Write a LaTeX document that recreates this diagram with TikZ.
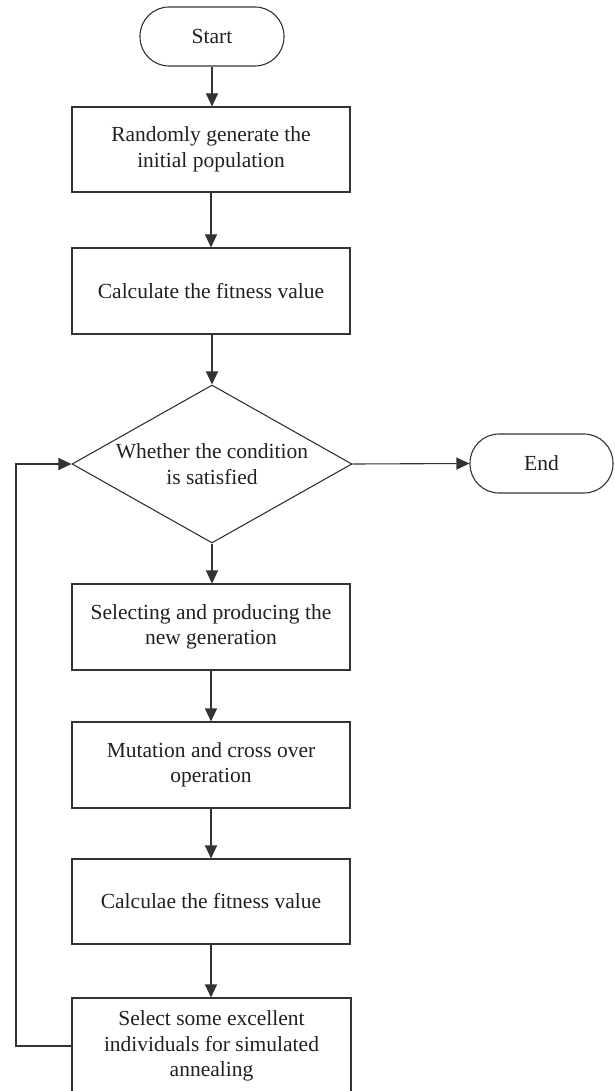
\documentclass[tikz,border=0pt]{standalone}
\usepackage{fontspec}
\setmainfont{Liberation Serif}
\usetikzlibrary{shapes.geometric,arrows.meta}
\definecolor{ln}{HTML}{333333}
\definecolor{tx}{HTML}{231F20}
\tikzset{
  base/.style={draw=ln, line width=1.1pt, text=tx, align=center, inner sep=0pt,
    font=\fontsize{21.5}{25.5}\selectfont},
  term/.style={base, rectangle, rounded corners=29pt, minimum width=144pt, minimum height=59pt},
  procbox/.style={base, rectangle, minimum width=278pt, minimum height=86pt},
  decide/.style={base, diamond, aspect=1.772, minimum width=280pt, minimum height=158pt},
  label/.style={text=tx, align=center, inner sep=0pt, font=\fontsize{21.5}{25.5}\selectfont},
  arr/.style={draw=ln, line width=1.1pt, -{Triangle[length=13pt,width=12pt]}}
}
\begin{document}
\begin{tikzpicture}[x=1pt,y=-1pt]
\useasboundingbox (0,0) rectangle (614,1091);
\node[term] (start) at (212,36.5) {Start};
\node[procbox, minimum height=85pt] (b1) at (211,149.5) {Randomly generate the\\initial population};
\node[procbox] (b2) at (211,291) {Calculate the fitness value};
\node[decide] (dia) at (212,464) {};
\node[label] (diatext) at (dia.center) {Whether the condition\\is satisfied};
\node[term, minimum width=143pt] (end) at (541.5,463.5) {End};
\node[procbox] (b3) at (211,627) {Selecting and producing the\\new generation};
\node[procbox] (b4) at (211,765) {Mutation and cross over\\operation};
\node[procbox, minimum height=85pt] (b5) at (211,901.5) {Calculae the fitness value};
\node[procbox, minimum height=96pt, minimum width=279pt] (b6) at (211.5,1046) {Select some excellent\\individuals for simulated\\annealing};
\coordinate (loopc) at (16,1046);
\draw[arr] (start.south) -- (start.south |- b1.north);
\draw[arr] (b1) -- (b2);
\draw[arr] (b2.south) -- (b2.south -| dia.north) -- (dia.north);
\draw[arr] (dia.east) -- (end.west);
\draw[arr] (dia.south) -- (dia.south |- b3.north);
\draw[arr] (b3) -- (b4);
\draw[arr] (b4) -- (b5);
\draw[arr] (b5) -- (b5.south |- b6.north);
\draw[arr] (b6.west) -- (loopc) |- (dia.west);
\end{tikzpicture}
\end{document}
